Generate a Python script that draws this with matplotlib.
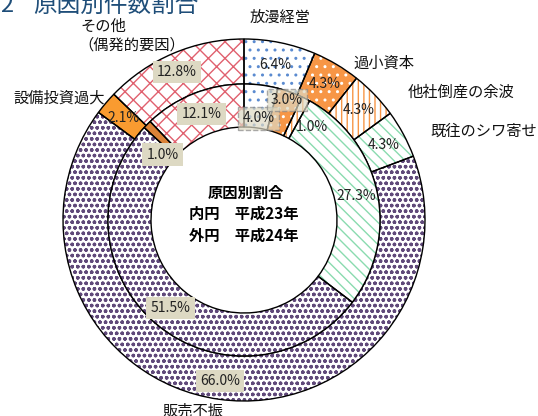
import numpy as np
import matplotlib
matplotlib.use('Agg')
import matplotlib.pyplot as plt

plt.rcParams['font.family'] = ['Noto Sans CJK JP', 'DejaVu Sans']
plt.rcParams['hatch.linewidth'] = 1.0

categories = ['放漫経営', '過小資本', '他社倒産の余波', '既往のシワ寄せ',
              '販売不振', '設備投資過大', 'その他']
outer_h24 = [6.4, 4.3, 4.3, 4.3, 66.0, 2.1, 12.8]   # 外円 平成24年
inner_h23 = [4.0, 3.0, 1.0, 27.3, 51.5, 1.0, 12.1]  # 内円 平成23年

W, H = 538, 416
CX, CY = 244, H - 220
R_OUT, R_MID, R_IN = 181, 136, 93

face_out = ['white', '#F79646', 'white', 'white', 'white', '#F99B30', 'white']
face_in = ['white', '#F79646', 'white', 'white', 'white', '#DB8237', 'white']
hatch_col = ['#5B8BD0', 'white', '#F79646', '#8ADBAF', '#60497A', None, '#E0606E']
hatches = ['..', '..', '|||', '\\\\\\', 'ooo', '', 'xx']

# label tweaks in pixels (dx, dy down), boxes
off_out = {4: (-2, 4), 6: (-5, -2)}
off_in = {0: (0, 12), 1: (4, -12), 2: (16, 9), 5: (0, 15)}
box_out = {4: 'solid', 6: 'solid'}
box_in = {0: 'dashed', 1: 'dashed', 4: 'solid', 5: 'solid', 6: 'solid'}

fig = plt.figure(figsize=(W / 100, H / 100), dpi=100)
ax = fig.add_axes([0, 0, 1, 1])


def ring(values, radius, width, faces, offsets, boxes):
    wedges, _ = ax.pie(values, radius=radius, startangle=90, counterclock=False,
                       center=(CX, CY), wedgeprops=dict(width=width, linewidth=0))
    for i, w in enumerate(wedges):
        w.set_facecolor(faces[i])
        w.set_edgecolor(hatch_col[i] if hatch_col[i] else faces[i])
        w.set_hatch(hatches[i])
    ax.pie(values, radius=radius, startangle=90, counterclock=False,
           center=(CX, CY), colors=['none'] * len(values),
           wedgeprops=dict(width=width, linewidth=1.0, edgecolor='black'))
    rm = radius - width / 2
    for i, w in enumerate(wedges):
        a = np.deg2rad((w.theta1 + w.theta2) / 2)
        dx, dy = offsets.get(i, (0, 0))
        x = CX + rm * np.cos(a) + dx
        y = CY + rm * np.sin(a) - dy
        bbox = None
        if i in boxes:
            if boxes[i] == 'dashed':
                bbox = dict(boxstyle='square,pad=0.3', fc='#DDD9C3', ec='#888888',
                            ls='--', lw=1.0, alpha=0.7)
            else:
                bbox = dict(boxstyle='square,pad=0.3', fc='#DDD9C3', ec='none')
        ax.text(x, y, f'{values[i]:.1f}%', ha='center', va='center',
                fontsize=10, color='#222222', bbox=bbox, zorder=5)


ring(outer_h24, R_OUT, R_OUT - R_MID, face_out, off_out, box_out)
ring(inner_h23, R_MID, R_MID - R_IN, face_in, off_in, box_in)

# category labels
cat_pos = [(250, 17), (353, 63), (408, 92), (430, 131), (162, 411), (13, 98), (80, 26)]
for name, (x, y) in zip(categories, cat_pos):
    ax.text(x, H - y, name, ha='left', va='center', fontsize=11, color='#111111')
ax.text(132, H - 45, '（偶発的要因）', ha='center', va='center', fontsize=11, color='#111111')

# centre text
ax.text(246, H - 193, '原因別割合', ha='center', va='center', fontsize=11, fontweight='bold')
ax.text(244, H - 214, '内円　平成23年', ha='center', va='center', fontsize=11, fontweight='bold')
ax.text(244, H - 236, '外円　平成24年', ha='center', va='center', fontsize=11, fontweight='bold')

# title (cut at the top edge, as in the source)
ax.text(0, H - 12, '2', ha='left', va='baseline', fontsize=17, color='#1F4E79')
ax.text(33, H - 12, '原因別件数割合', ha='left', va='baseline', fontsize=17, color='#1F4E79')

ax.set_xlim(0, W)
ax.set_ylim(0, H)
ax.set_aspect('equal')
ax.axis('off')

fig.savefig('out.png', dpi=100)
